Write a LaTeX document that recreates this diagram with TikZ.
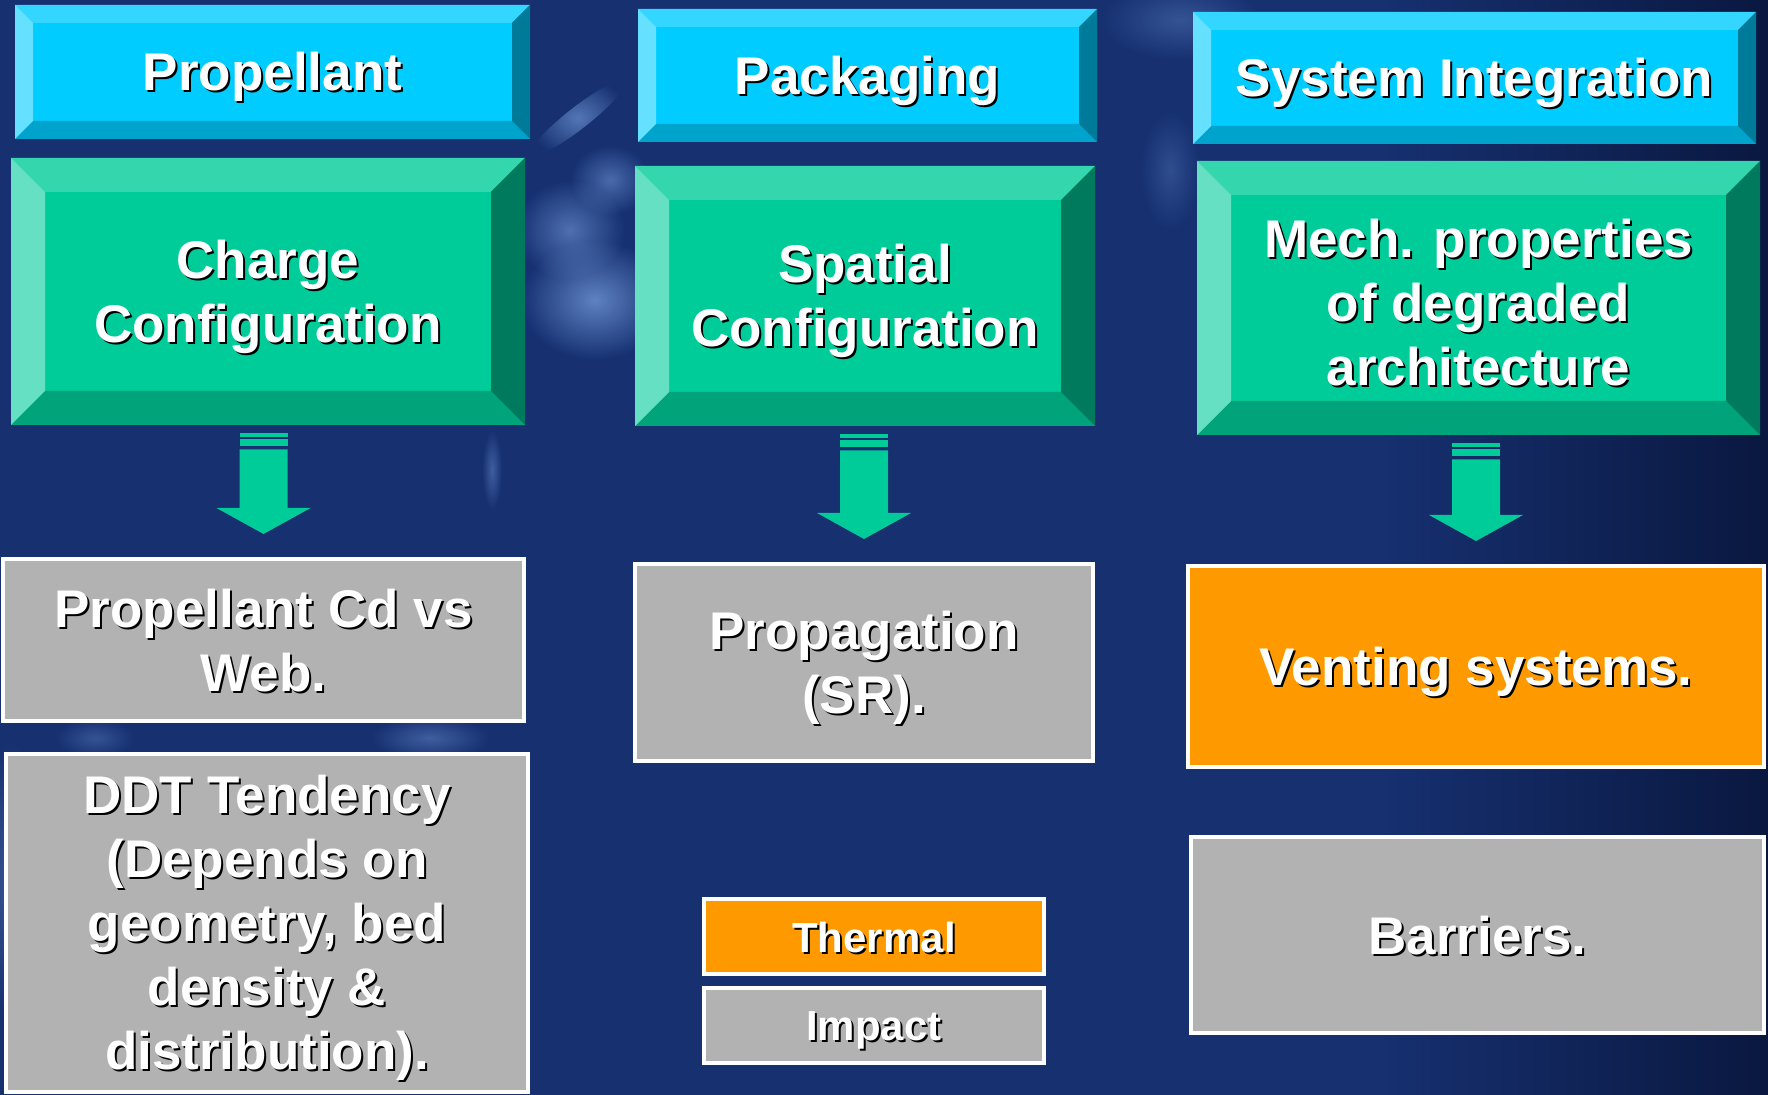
\documentclass[tikz,border=0pt]{standalone}
\usepackage{fontspec}
\setmainfont{Liberation Sans}
\usetikzlibrary{fit,calc,fadings}

% palette
\definecolor{bgblue}{RGB}{22,48,112}
\definecolor{bgdark}{RGB}{10,24,64}
\definecolor{cloud}{RGB}{125,165,230}
\definecolor{cyanface}{HTML}{00CCFF}
\definecolor{cyantop}{HTML}{33D6FF}
\definecolor{cyanleft}{HTML}{66E0FF}
\definecolor{cyanbottom}{HTML}{00A3CC}
\definecolor{cyanright}{HTML}{007A99}
\definecolor{greenface}{HTML}{00CC99}
\definecolor{greentop}{HTML}{33D6AD}
\definecolor{greenleft}{HTML}{66E0C2}
\definecolor{greenbottom}{HTML}{00A37A}
\definecolor{greenright}{HTML}{007A5C}
\definecolor{boxgray}{HTML}{B2B2B2}
\definecolor{boxorange}{HTML}{FF9900}

\tikzfading[name=softblob, inner color=transparent!0, outer color=transparent!100]

\tikzset{
  lbl/.style={text=white, font=\bfseries\fontsize{26.5}{32}\selectfont,
              align=center, inner sep=0pt, yshift=-2.5pt},
  small lbl/.style={font=\bfseries\fontsize{21}{25}\selectfont},
  raised/.style={yshift=2pt},
  frame/.style={inner sep=0pt},
  flatbox/.style={draw=white, line width=2pt, inner sep=0pt},
  graybox/.style={flatbox, fill=boxgray},
  orangebox/.style={flatbox, fill=boxorange},
  haze/.style={cloud, path fading=softblob},
}

% bevelled box: name, x1, y1, x2, y2, bevel, palette
\newcommand\bevelbox[7]{%
  \fill[#7face] (#2,#3) rectangle (#4,#5);
  \fill[#7top] (#2,#3) -- (#4,#3) -- ({#4-#6},{#3+#6}) -- ({#2+#6},{#3+#6}) -- cycle;
  \fill[#7bottom] (#2,#5) -- (#4,#5) -- ({#4-#6},{#5-#6}) -- ({#2+#6},{#5-#6}) -- cycle;
  \fill[#7left] (#2,#3) -- ({#2+#6},{#3+#6}) -- ({#2+#6},{#5-#6}) -- (#2,#5) -- cycle;
  \fill[#7right] (#4,#3) -- ({#4-#6},{#3+#6}) -- ({#4-#6},{#5-#6}) -- (#4,#5) -- cycle;
  \node[frame, fit={(#2,#3) (#4,#5)}] (#1) {};}

% white text with a dark drop shadow
\newcommand\shadowlabel[3][]{%
  \node[lbl,#1,text=black] at ([shift={(1pt,-1pt)}]#2) {#3};
  \node[lbl,#1] at (#2) {#3};}

% striped block arrow from one box down to the next
\newcommand\blockarrow[2]{%
  \coordinate (ta) at ([yshift=-4pt]#1.south);
  \coordinate (t) at (ta -| #2.north);
  \coordinate (h) at ([yshift=11.5pt]#2.north);
  \fill[greenface] (t) ++(-24,0) rectangle ++(48,4);
  \fill[greenface] (t) ++(-24,6) rectangle ++(48,7);
  \fill[greenface] ($(t)+(-24,16)$) -- ($(h)+(-24,-26)$) -- ++(-23,0) -- (h)
     -- ($(h)+(47,-26)$) -- ++(-23,0) -- ($(t)+(24,16)$) -- cycle;}

\begin{document}
\begin{tikzpicture}[x=0.5pt, y=-0.5pt]
\useasboundingbox (0,0) rectangle (1768,1095);

% backdrop
\fill[bgblue] (0,0) rectangle (1768,1095);
\shade[left color=bgblue, right color=bgdark] (1380,0) rectangle (1768,1095);
% pale cloud drifting behind the gap between the first two columns
\fill[haze, opacity=.7] (595,300) ellipse [x radius=75, y radius=60];
\fill[haze, opacity=.55] (570,230) ellipse [x radius=55, y radius=50];
\fill[haze, opacity=.5] (610,180) ellipse [x radius=40, y radius=35];
\fill[haze, opacity=.6, rotate around={38:(578,118)}] (578,118) ellipse [x radius=60, y radius=11];
\fill[haze, opacity=.3] (1180,20) ellipse [x radius=80, y radius=40];
\fill[haze, opacity=.25] (1170,170) ellipse [x radius=30, y radius=60];
\fill[haze, opacity=.4] (492,470) ellipse [x radius=10, y radius=40];
\fill[haze, opacity=.4] (430,738) ellipse [x radius=60, y radius=22];
\fill[haze, opacity=.3] (95,738) ellipse [x radius=40, y radius=20];
\fill[haze, opacity=.35] (10,880) ellipse [x radius=30, y radius=140];

% column headers
\bevelbox{hprop}{15}{5}{530}{139}{18}{cyan}
\bevelbox{hpack}{638}{9}{1097}{142}{18}{cyan}
\bevelbox{hsys}{1193}{12}{1756}{144}{18}{cyan}
\shadowlabel{hprop.center}{Propellant}
\shadowlabel{hpack.center}{Packaging}
\shadowlabel{hsys.center}{System Integration}

% second row
\bevelbox{charge}{11}{158}{525}{425}{34}{green}
\bevelbox{spatial}{635}{166}{1095}{426}{34}{green}
\bevelbox{mech}{1197}{161}{1760}{435}{34}{green}
\shadowlabel{charge.center}{Charge\\Configuration}
\shadowlabel{spatial.center}{Spatial\\Configuration}
\shadowlabel{mech.center}{Mech. properties\\of degraded\\architecture}

% result boxes
\node[graybox, fit={(3,559) (524,721)}] (cdweb) {};
\node[graybox, fit={(6,754) (528,1092)}] (ddt) {};
\node[graybox, fit={(635,564) (1093,761)}] (propag) {};
\node[orangebox, fit={(704,899) (1044,974)}] (thermal) {};
\node[graybox, fit={(704,988) (1044,1063)}] (impact) {};
\node[orangebox, fit={(1188,566) (1764,767)}] (venting) {};
\node[graybox, fit={(1191,837) (1764,1033)}] (barriers) {};

\shadowlabel[raised]{cdweb.center}{Propellant Cd vs\\Web.}
\shadowlabel{ddt.center}{DDT Tendency\\(Depends on\\geometry, bed\\density \&\\distribution).}
\shadowlabel{propag.center}{Propagation\\(SR).}
\shadowlabel[small lbl,raised]{thermal.center}{Thermal}
\shadowlabel[small lbl]{impact.center}{Impact}
\shadowlabel{venting.center}{Venting systems.}
\shadowlabel[raised]{barriers.center}{Barriers.}

% arrows
\blockarrow{charge}{cdweb}
\blockarrow{spatial}{propag}
\blockarrow{mech}{venting}
\end{tikzpicture}
\end{document}
